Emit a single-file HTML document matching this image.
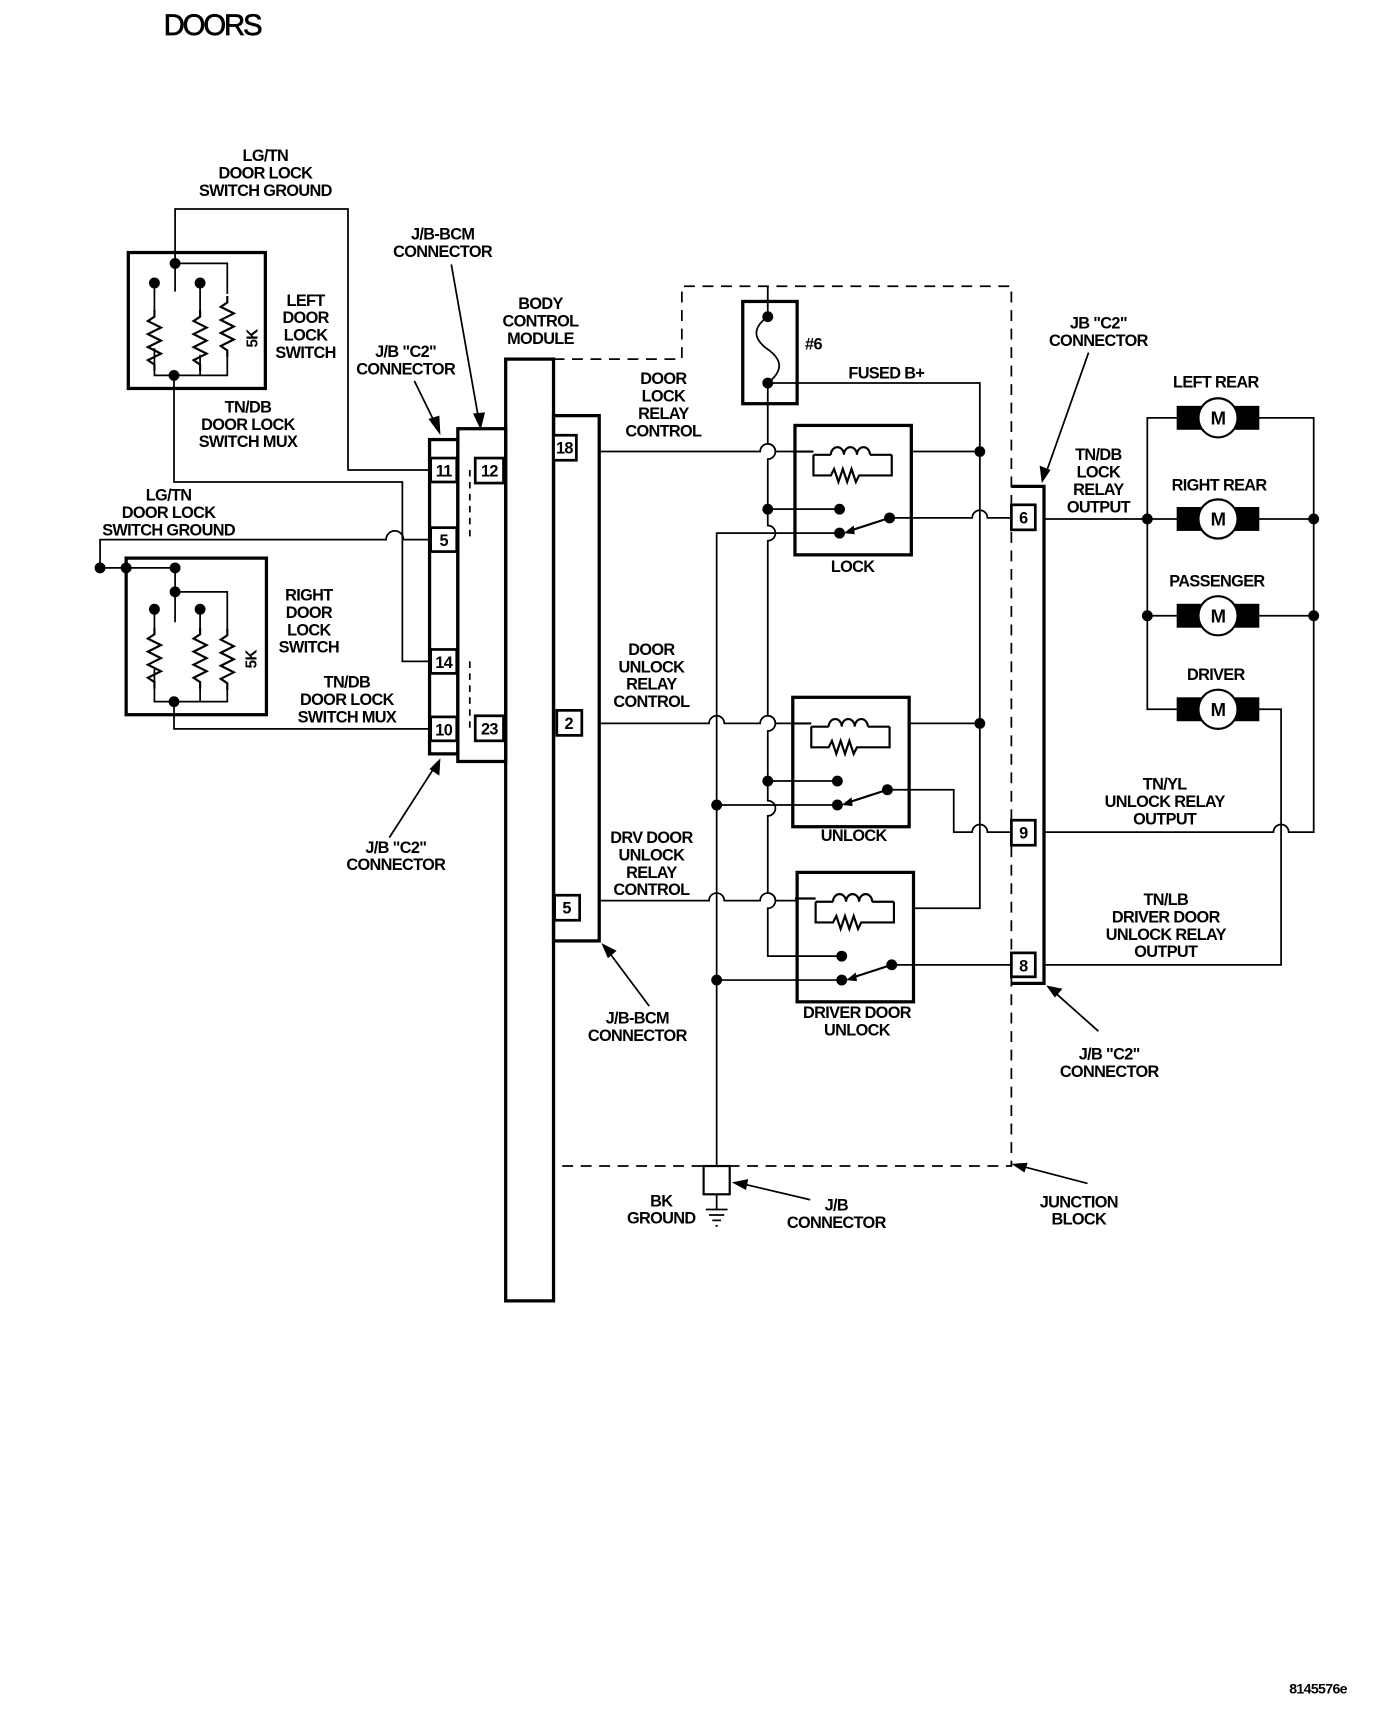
<!DOCTYPE html>
<html><head><meta charset="utf-8"><style>
html,body{margin:0;padding:0;background:#fff}
svg{display:block}
text{font-family:"Liberation Sans",Arial,sans-serif;font-weight:bold;font-size:15px;fill:#000;text-anchor:middle;letter-spacing:-0.6px}
</style></head><body>
<svg width="1392" height="1710" viewBox="0 0 1280 1572" xmlns="http://www.w3.org/2000/svg">
<defs>
<g id="res"><polyline points="0,0 0,6 -6,10 6,16 -6,22 6,28 -6,34 6,40 -6,46 0,50 0,56" fill="none" stroke="#000" stroke-width="2"/></g>
<g id="relay">
<rect x="0" y="-24" width="107" height="119" fill="none" stroke="#000" stroke-width="3"/>
<path d="M-2,0 H17 M17,3 V22 H33 l3,-6 4,12 4,-12 4,12 4,-12 4,12 3,-6 H89 V3 M33,3 a6 7 0 1 1 12 0 a6 7 0 1 1 12 0 a6 7 0 1 1 12 0 M69,3 H89 M17,3 H33" fill="none" stroke="#000" stroke-width="2"/>
<circle cx="41" cy="53" r="5"/><circle cx="41" cy="75" r="5"/><circle cx="87" cy="61" r="5"/>
<line x1="87" y1="61" x2="50" y2="73" stroke="#000" stroke-width="2"/>
<polygon points="45,75 54,68 55,76"/>
</g>
<g id="motor"><rect x="-38" y="-11" width="76" height="22"/><circle cx="0" cy="0" r="18" fill="#fff" stroke="#000" stroke-width="2"/><text x="0" y="6" style="font-size:17px">M</text></g>
</defs>
<text x="195" y="32" style="font-size:27px;font-weight:normal;letter-spacing:-2px;stroke:#000;stroke-width:0.6">DOORS</text>
<g fill="none" stroke="#000" stroke-width="1.6">
<path d="M161,268 V192 H320 V432 H396"/>
<path d="M161,242 H209 V270"/>
<path d="M142,260 V290 M184,260 V290"/>
<path d="M142,320 V345 H209 V326 M184,326 V345"/>
<path d="M160,345 V443 H370 V608 H396"/>
<path d="M92,522 V496 H355 a8 8 0 0 1 16 0 H396"/>
<path d="M92,522 H161 V544"/>
<path d="M161,544 H209 V582 M161,544 V572"/>
<path d="M142,560 V580 M184,560 V580"/>
<path d="M142,615 V645 H209 V632 M184,632 V645"/>
<path d="M160,645 V670 H396"/>
<path d="M509,330 H627 V263 H930 V1072 H509" stroke-dasharray="10,7"/>
<path d="M432,432 V496 M432,608 V670" stroke-dasharray="6,5"/>
<path d="M706,263 V291 M706,291 c-14,10 -14,20 0,30 c14,10 14,20 0,31 M706,352 H901 V835 H840"/>
<path d="M706,352 V408 a7 7 0 0 1 0 14 V483 a7 7 0 0 1 0 14 V658 a7 7 0 0 1 0 14 V736 a7 7 0 0 1 0 14 V821 a7 7 0 0 1 0 14 V879 H772"/>
<path d="M706,468 H772 M706,718 H772"/>
<path d="M551,415 H699 a7 7 0 0 1 14 0 H731 M838,415 H901"/>
<path d="M551,665 H652 a7 7 0 0 1 14 0 H699 a7 7 0 0 1 14 0 H729 M836,665 H901"/>
<path d="M551,828 H652 a7 7 0 0 1 14 0 H699 a7 7 0 0 1 14 0 H733"/>
<path d="M772,490 H659 V1072 M659,740 H772 M659,901 H772"/>
<path d="M818,476 H894 a7 7 0 0 1 14 0 H930"/>
<path d="M816,726 H877 V765 H894 a7 7 0 0 1 14 0 H930"/>
<path d="M820,887 H930"/>
<path d="M960,477 H1208 M960,765 H1171 a7 7 0 0 1 14 0 H1208 V384 H1055 V652 H1100 M960,887 H1178 V652 H1140"/>
<path d="M1055,566 H1208"/>
<path d="M659,1098 V1112 M649,1112 H669 M652,1117 H666 M655,1122 H663 M658,1127 H660"/>
<path d="M381,350 L403,395 M415,243 L441,390 M358,770 L403,700 M597,925 L556,870 M1001,324 L960,440 M1010,948 L965,908 M1000,1088 L935,1071 M745,1103 L677,1087"/>
</g>
<g fill="#000">
<polygon points="405,400 394,385 404,382"/>
<polygon points="442,395 435,380 446,379"/>
<polygon points="405,697 404,713 395,707"/>
<polygon points="553,867 567,874 559,881"/>
<polygon points="958,444 956,428 966,432"/>
<polygon points="962,906 977,909 970,917"/>
<polygon points="930,1070 945,1069 942,1078"/>
<polygon points="673,1087 688,1084 686,1094"/>
</g>
<use href="#res" x="142" y="285"/><use href="#res" x="184" y="285"/><use href="#res" x="209" y="272"/>
<use href="#res" x="142" y="577"/><use href="#res" x="184" y="577"/><use href="#res" x="209" y="578"/>
<g fill="none" stroke="#000" stroke-width="3">
<rect x="118" y="232" width="126" height="125"/>
<rect x="116" y="513" width="129" height="144"/>
<rect x="395" y="404" width="26" height="289"/>
<rect x="421" y="394" width="44" height="306"/>
<rect x="465" y="330" width="44" height="866"/>
<rect x="509" y="382" width="42" height="483"/>
<rect x="683" y="277" width="50" height="94"/>
<path d="M930,447 H960 V904 H930"/>
<rect x="647" y="1072" width="24" height="26" stroke-width="2"/>
</g>
<g fill="#fff" stroke="#000" stroke-width="2.5">
<rect x="396" y="421" width="24" height="22"/><rect x="396" y="485" width="24" height="22"/>
<rect x="396" y="597" width="24" height="22"/><rect x="396" y="659" width="24" height="22"/>
<rect x="437" y="421" width="26" height="23"/><rect x="437" y="658" width="26" height="23"/>
<rect x="509" y="400" width="21" height="23"/><rect x="512" y="653" width="23" height="23"/><rect x="510" y="823" width="23" height="23"/>
<rect x="930" y="464" width="22" height="23"/><rect x="930" y="754" width="22" height="23"/><rect x="930" y="876" width="22" height="22"/>
</g>
<g style="font-size:14px">
<text x="408" y="438">11</text><text x="408" y="502">5</text><text x="408" y="614">14</text><text x="408" y="676">10</text>
<text x="450" y="438">12</text><text x="450" y="675">23</text>
<text x="519" y="417">18</text><text x="523" y="670">2</text><text x="521" y="840">5</text>
<text x="941" y="481">6</text><text x="941" y="771">9</text><text x="941" y="893">8</text>
</g>
<use href="#relay" x="731" y="415"/>
<use href="#relay" x="729" y="665"/>
<use href="#relay" x="733" y="826"/>
<g fill="#000">
<circle cx="161" cy="242" r="5"/><circle cx="142" cy="260" r="5"/><circle cx="184" cy="260" r="5"/><circle cx="160" cy="345" r="5"/>
<circle cx="92" cy="522" r="5"/><circle cx="116" cy="522" r="5"/><circle cx="161" cy="522" r="5"/><circle cx="161" cy="544" r="5"/>
<circle cx="142" cy="560" r="5"/><circle cx="184" cy="560" r="5"/><circle cx="160" cy="645" r="5"/>
<circle cx="706" cy="291" r="5"/><circle cx="706" cy="352" r="5"/>
<circle cx="901" cy="415" r="5"/><circle cx="901" cy="665" r="5"/>
<circle cx="706" cy="468" r="5"/><circle cx="706" cy="718" r="5"/>
<circle cx="659" cy="740" r="5"/><circle cx="659" cy="901" r="5"/>
<circle cx="1055" cy="477" r="5"/><circle cx="1208" cy="477" r="5"/><circle cx="1055" cy="566" r="5"/><circle cx="1208" cy="566" r="5"/>
</g>
<use href="#motor" x="1120" y="384"/><use href="#motor" x="1120" y="477"/><use href="#motor" x="1120" y="566"/><use href="#motor" x="1120" y="652"/>
<text x="244" y="148">LG/TN</text><text x="244" y="164">DOOR LOCK</text><text x="244" y="180">SWITCH GROUND</text>
<text x="281" y="281">LEFT</text><text x="281" y="297">DOOR</text><text x="281" y="313">LOCK</text><text x="281" y="329">SWITCH</text>
<text transform="translate(237,311) rotate(-90)" style="font-size:14px">5K</text>
<text x="228" y="379">TN/DB</text><text x="228" y="395">DOOR LOCK</text><text x="228" y="411">SWITCH MUX</text>
<text x="155" y="460">LG/TN</text><text x="155" y="476">DOOR LOCK</text><text x="155" y="492">SWITCH GROUND</text>
<text x="284" y="552">RIGHT</text><text x="284" y="568">DOOR</text><text x="284" y="584">LOCK</text><text x="284" y="600">SWITCH</text>
<text transform="translate(236,606) rotate(-90)" style="font-size:14px">5K</text>
<text x="319" y="632">TN/DB</text><text x="319" y="648">DOOR LOCK</text><text x="319" y="664">SWITCH MUX</text>
<text x="407" y="220">J/B-BCM</text><text x="407" y="236">CONNECTOR</text>
<text x="373" y="328">J/B "C2"</text><text x="373" y="344">CONNECTOR</text>
<text x="497" y="284">BODY</text><text x="497" y="300">CONTROL</text><text x="497" y="316">MODULE</text>
<text x="364" y="784">J/B "C2"</text><text x="364" y="800">CONNECTOR</text>
<text x="610" y="353">DOOR</text><text x="610" y="369">LOCK</text><text x="610" y="385">RELAY</text><text x="610" y="401">CONTROL</text>
<text x="599" y="602">DOOR</text><text x="599" y="618">UNLOCK</text><text x="599" y="634">RELAY</text><text x="599" y="650">CONTROL</text>
<text x="599" y="775">DRV DOOR</text><text x="599" y="791">UNLOCK</text><text x="599" y="807">RELAY</text><text x="599" y="823">CONTROL</text>
<text x="586" y="941">J/B-BCM</text><text x="586" y="957">CONNECTOR</text>
<text x="748" y="321">#6</text><text x="815" y="348">FUSED B+</text>
<text x="784" y="526">LOCK</text><text x="785" y="773">UNLOCK</text>
<text x="788" y="936">DRIVER DOOR</text><text x="788" y="952">UNLOCK</text>
<text x="608" y="1109">BK</text><text x="608" y="1125">GROUND</text>
<text x="769" y="1113">J/B</text><text x="769" y="1129">CONNECTOR</text>
<text x="992" y="1110">JUNCTION</text><text x="992" y="1126">BLOCK</text>
<text x="1010" y="302">JB "C2"</text><text x="1010" y="318">CONNECTOR</text>
<text x="1010" y="423">TN/DB</text><text x="1010" y="439">LOCK</text><text x="1010" y="455">RELAY</text><text x="1010" y="471">OUTPUT</text>
<text x="1118" y="356">LEFT REAR</text><text x="1121" y="451">RIGHT REAR</text><text x="1119" y="539">PASSENGER</text><text x="1118" y="625">DRIVER</text>
<text x="1071" y="726">TN/YL</text><text x="1071" y="742">UNLOCK RELAY</text><text x="1071" y="758">OUTPUT</text>
<text x="1072" y="832">TN/LB</text><text x="1072" y="848">DRIVER DOOR</text><text x="1072" y="864">UNLOCK RELAY</text><text x="1072" y="880">OUTPUT</text>
<text x="1020" y="974">J/B "C2"</text><text x="1020" y="990">CONNECTOR</text>
<text x="1212" y="1557" style="font-size:13px">8145576e</text>
</svg>
</body></html>
